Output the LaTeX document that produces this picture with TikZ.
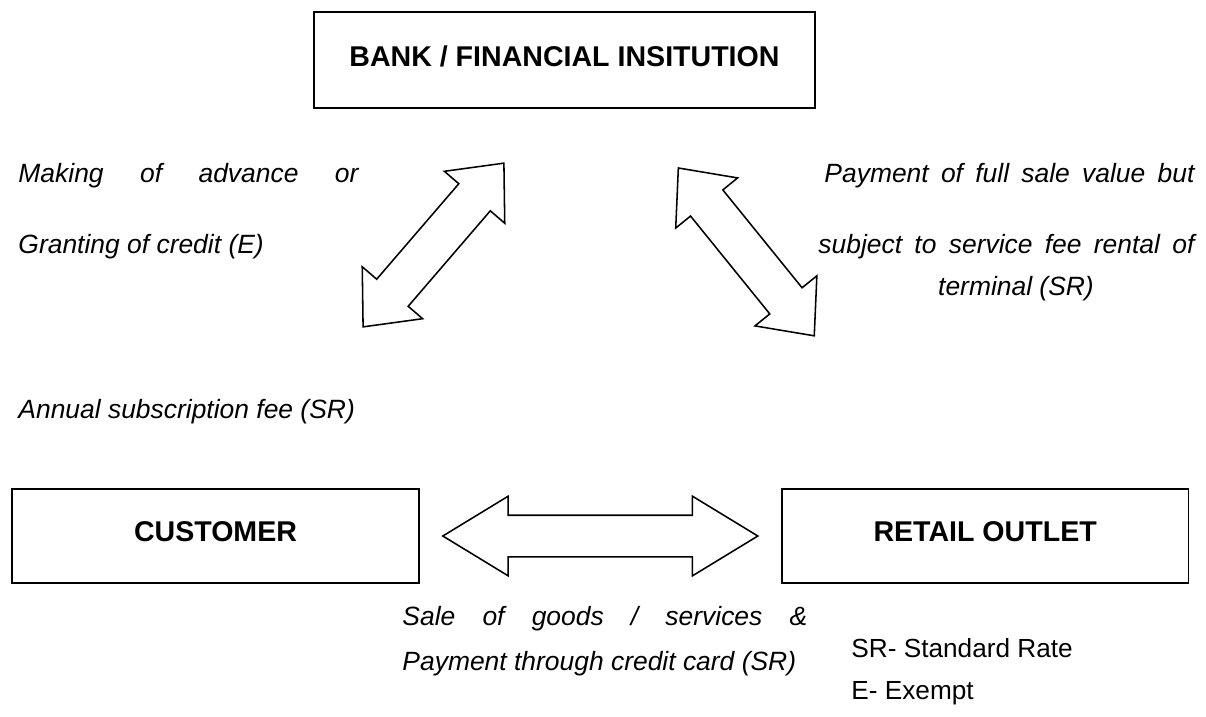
\documentclass[tikz,border=0pt]{standalone}
\usepackage{fontspec}
\setmainfont{Liberation Sans}
\usetikzlibrary{shapes.arrows,positioning,calc}

\tikzset{
  box/.style={draw, line width=0.75pt, minimum width=170.9pt, minimum height=39.5pt,
    inner sep=0pt, text depth=0.35em, font=\bfseries\fontsize{12}{14}\selectfont},
  blockarrow/.style={double arrow, draw, line width=0.65pt, inner xsep=0pt,
    inner ysep=8.4pt, double arrow head extend=8pt},
  note/.style={inner sep=0pt, anchor=base west, font=\itshape\fontsize{11.1}{13}\selectfont},
  key/.style={inner sep=0pt, anchor=base west, font=\fontsize{11}{13}\selectfont}
}

\begin{document}
\begin{tikzpicture}[x=0.42pt, y=-0.42pt]
  \useasboundingbox (0,0) rectangle (1206,716);

  % the three parties
  \node[box, minimum width=210.4pt, minimum height=40.3pt] (bank) at (564.5,60) {BANK / FINANCIAL INSITUTION};
  \node[box] (customer) at (215.5,536) {CUSTOMER};
  \node[box, right=151.6pt of customer] (retail) {RETAIL OUTLET};

  % block arrows
  \node[blockarrow, minimum height=90.7pt, double arrow tip angle=83, rotate=49.3] (advance) at (433.5,245) {};
  \node[blockarrow, minimum height=90.7pt, double arrow tip angle=83, rotate=-51] (settle) at (746.3,251.9) {};
  \node[blockarrow, minimum height=132.3pt, double arrow tip angle=62.7] (sale) at ($(customer.east)!0.5!(retail.west)$) {};

  % labels
  \node[note] (making1) at (18,182) {\makebox[142.8pt][s]{Making of advance or}};
  \node[note] (making2) at (18,253) {Granting of credit (E)};
  \node[note] (pay1) at (824,182) {\makebox[155.4pt][s]{Payment of full sale value but}};
  \node[note] (pay2) at (818,253) {\makebox[157.9pt][s]{subject to service fee rental of}};
  \node[note, anchor=base] (pay3) at (1016,295) {terminal (SR)};
  \node[note] (annual) at (18,418) {Annual subscription fee (SR)};
  \node[note] (sale1) at (402,625) {\makebox[170pt][s]{Sale of goods / services \&}};
  \node[note] (sale2) at (402,670) {Payment through credit card (SR)};

  % legend
  \node[key] (keysr) at (851,657) {SR- Standard Rate};
  \node[key] (keye) at (851,699) {E- Exempt};
\end{tikzpicture}
\end{document}
